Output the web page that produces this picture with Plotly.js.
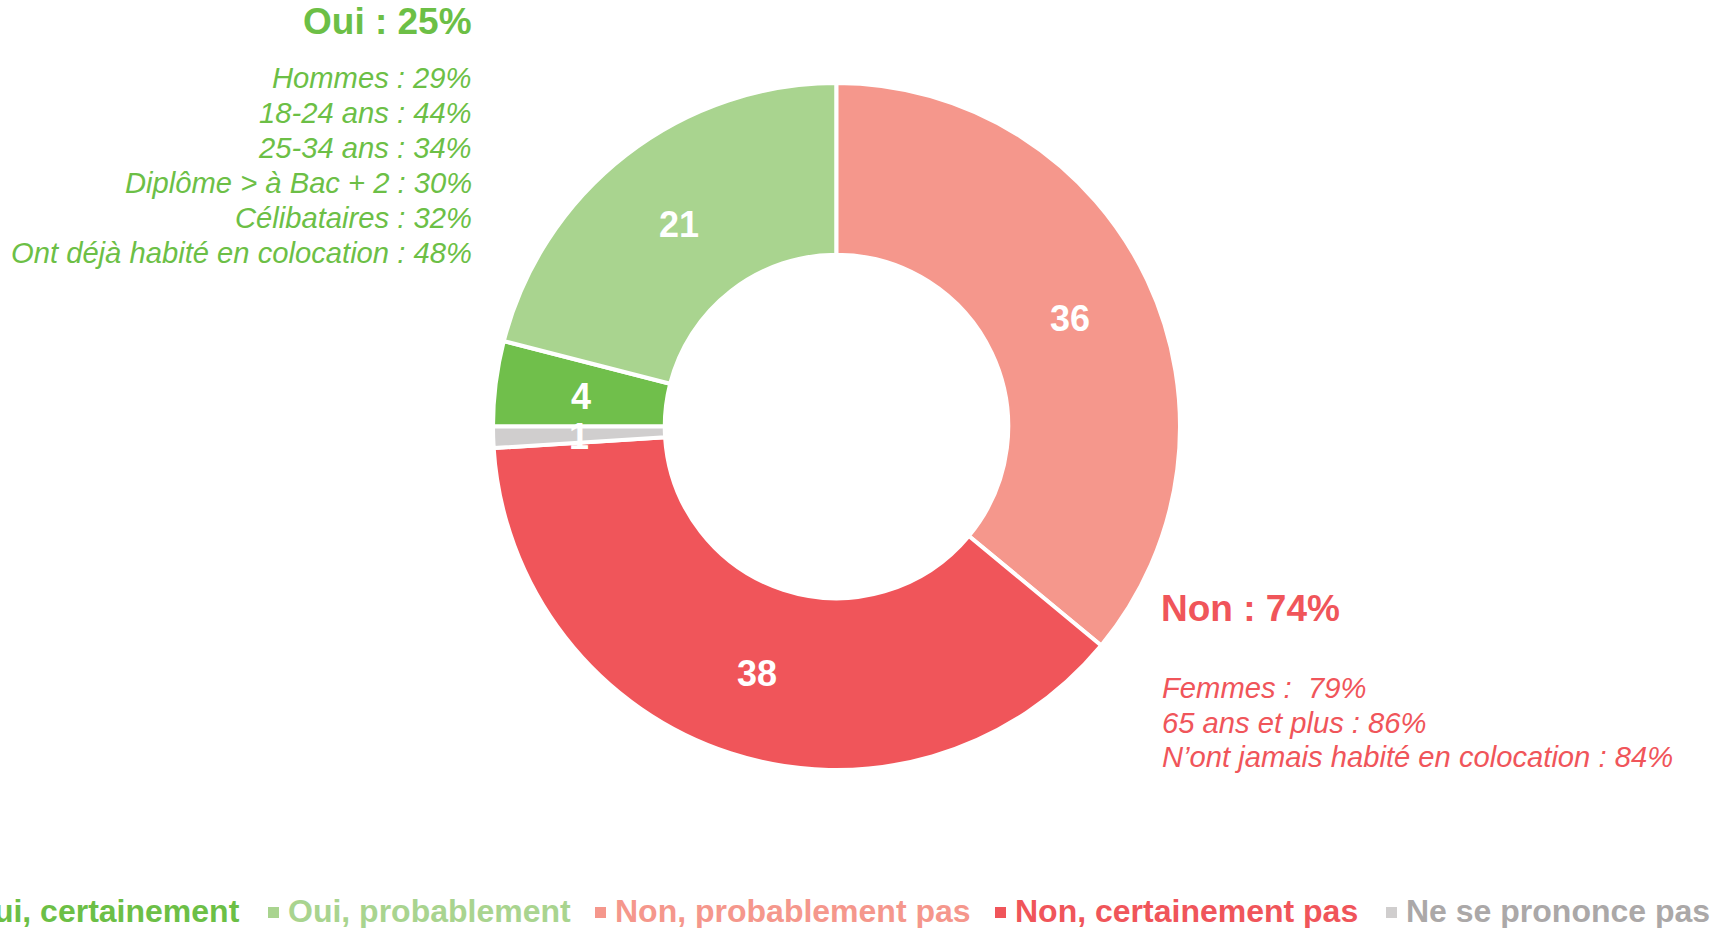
<!DOCTYPE html>
<html>
<head>
<meta charset="utf-8">
<script src="https://cdn.plot.ly/plotly-3.0.1.min.js"></script>
<style>
html, body { margin: 0; padding: 0; background: #ffffff; overflow: hidden; }
#chart { width: 1723px; height: 928px; }
</style>
</head>
<body>
<div id="chart"></div>
<script>
// ---- Data ----
const categories = ['Oui, certainement', 'Oui, probablement', 'Non, probablement pas', 'Non, certainement pas', 'Ne se prononce pas'];
const values = [4, 21, 36, 38, 1];
const sliceColors = ['#70BF4B', '#A9D48F', '#F5978C', '#F0555A', '#D0CECE'];
const legendTextColors = ['#6CBF46', '#A9D48F', '#F5978C', '#F0555A', '#ABA8A8'];

const ouiTitle = 'Oui : 25%';
const ouiDetails = ['Hommes : 29%', '18-24 ans : 44%', '25-34 ans : 34%', 'Diplôme > à Bac + 2 : 30%', 'Célibataires : 32%', 'Ont déjà habité en colocation : 48%'];
const nonTitle = 'Non : 74%';
const nonDetails = ['Femmes :\u00a0 79%', '65 ans et plus : 86%', 'N\u2019ont jamais habité en colocation : 84%'];

// ---- Layout helpers (pixel -> paper, margins are zero) ----
const W = 1723, H = 928;
const px = x => x / W;
const py = y => 1 - y / H;
const FONT = 'Liberation Sans, Arial, Helvetica, sans-serif';
const GREEN = '#6CBF46', RED = '#F0555A';

// pie geometry
const cx = 836.5, cy = 426.5, R = 343.5, HOLE = 0.5, START_DEG = 270;

const trace = {
  type: 'pie',
  labels: categories,
  values: values,
  sort: false,
  direction: 'clockwise',
  rotation: START_DEG,
  hole: HOLE,
  textinfo: 'none',
  hoverinfo: 'label+value',
  marker: { colors: sliceColors, line: { color: '#ffffff', width: 4 } },
  domain: { x: [px(cx - R), px(cx + R)], y: [py(cy + R), py(cy - R)] },
  showlegend: false
};

const annotations = [];
const shapes = [];

// slice value labels, placed at mid-ring of each slice from the values
const total = values.reduce((a, b) => a + b, 0);
const rMid = R * (1 + HOLE) / 2;
let cum = 0;
values.forEach((v, i) => {
  const midDeg = START_DEG + (cum + v / 2) / total * 360;
  cum += v;
  const a = midDeg * Math.PI / 180;
  annotations.push({
    text: '<b>' + v + '</b>',
    x: px(cx + rMid * Math.sin(a)), y: py(cy - rMid * Math.cos(a) + 2),
    xref: 'paper', yref: 'paper', xanchor: 'center', yanchor: 'middle',
    showarrow: false, borderpad: 0,
    font: { family: FONT, size: 36, color: '#ffffff' }
  });
});

// Oui block
annotations.push({
  text: '<b>' + ouiTitle + '</b>', x: px(473), y: py(22),
  xref: 'paper', yref: 'paper', xanchor: 'right', yanchor: 'middle', align: 'right',
  showarrow: false, borderpad: 0,
  font: { family: FONT, size: 37, color: GREEN }
});
ouiDetails.forEach((t, i) => {
  annotations.push({
    text: t, x: px(473), y: py(78 + 35 * i),
    xref: 'paper', yref: 'paper', xanchor: 'right', yanchor: 'middle', align: 'right',
    showarrow: false, borderpad: 0,
    font: { family: FONT, size: 29.2, color: GREEN, style: 'italic' }
  });
});

// Non block
annotations.push({
  text: '<b>' + nonTitle + '</b>', x: px(1159.5), y: py(608),
  xref: 'paper', yref: 'paper', xanchor: 'left', yanchor: 'middle', align: 'left',
  showarrow: false, borderpad: 0,
  font: { family: FONT, size: 37, color: RED }
});
nonDetails.forEach((t, i) => {
  annotations.push({
    text: t, x: px(1161), y: py(688 + 34.5 * i),
    xref: 'paper', yref: 'paper', xanchor: 'left', yanchor: 'middle', align: 'left',
    showarrow: false, borderpad: 0,
    font: { family: FONT, size: 29.2, color: RED, style: 'italic' }
  });
});

// Legend row (drawn as text + squares so it can run past the page edge like the original)
const legendX = [-32, 287, 614, 1014, 1405];
const legendY = 911;
categories.forEach((c, i) => {
  annotations.push({
    text: '<b>' + c + '</b>', x: px(legendX[i]), y: py(legendY),
    xref: 'paper', yref: 'paper', xanchor: 'left', yanchor: 'middle',
    showarrow: false, borderpad: 0,
    font: { family: FONT, size: 32, color: legendTextColors[i] }
  });
  shapes.push({
    type: 'rect', xref: 'paper', yref: 'paper',
    x0: px(legendX[i] - 19), x1: px(legendX[i] - 8),
    y0: py(918), y1: py(907),
    fillcolor: sliceColors[i], line: { width: 0 }
  });
});

const layout = {
  width: W, height: H,
  margin: { l: 0, r: 0, t: 0, b: 0, pad: 0 },
  paper_bgcolor: '#ffffff', plot_bgcolor: '#ffffff',
  showlegend: false,
  font: { family: FONT },
  annotations: annotations,
  shapes: shapes
};

Plotly.newPlot('chart', [trace], layout, { displayModeBar: false, staticPlot: true });
</script>
</body>
</html>
